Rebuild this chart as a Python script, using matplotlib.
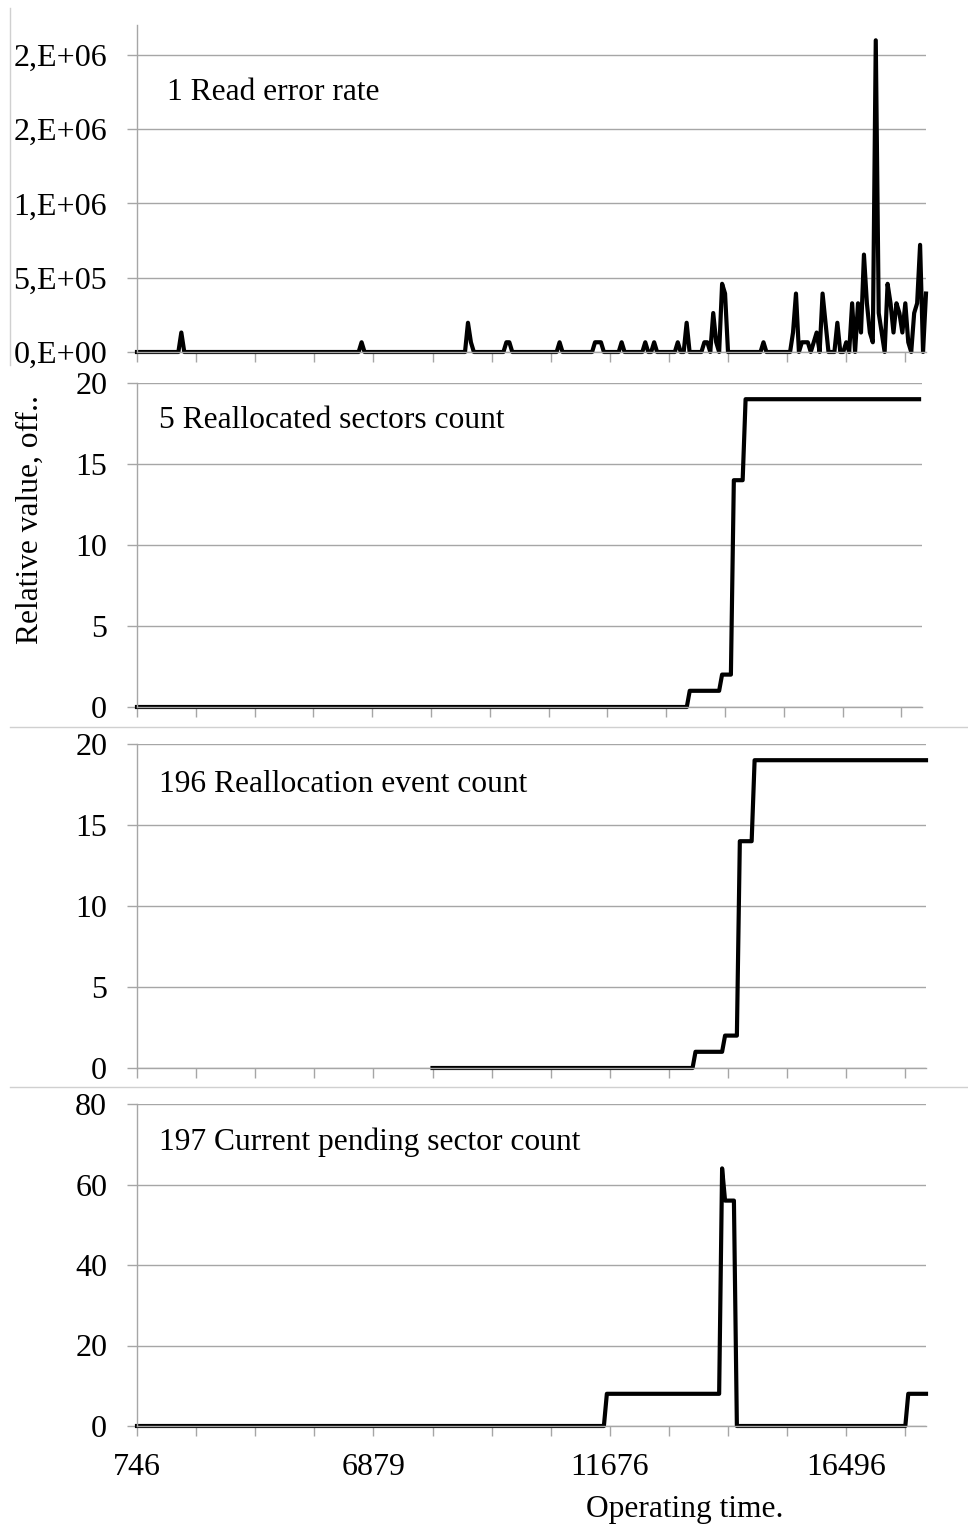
import matplotlib.pyplot as plt
import numpy as np
from matplotlib.lines import Line2D

plt.rcParams['font.family'] = ['Liberation Serif', 'DejaVu Serif']

# x axis is the sample number (category axis), labelled with operating time
n_samples = 268
tick_idx = [0, 80, 160, 240]
tick_labels = ["746", "6879", "11676", "16496"]

# 1 Read error rate: samples that differ from zero
read_idx = [15, 76, 112, 113, 125, 126, 143, 155, 156, 157, 164, 172, 175, 183,
            186, 192, 193, 195, 196, 198, 199, 212, 222, 223, 225, 226, 227,
            229, 230, 232, 233, 237, 240, 242, 244, 245, 246, 247, 248, 249,
            250, 251, 252, 254, 255, 256, 257, 258, 259, 260, 261, 263, 264,
            265, 267]
read_val = [131072, 65536, 196608, 65536, 65536, 65536, 65536, 65536, 65536,
            65536, 65536, 65536, 65536, 65536, 196608, 65536, 65536, 262144,
            65536, 458752, 393216, 65536, 131072, 393216, 65536, 65536, 65536,
            65536, 131072, 393216, 196608, 196608, 65536, 327680, 327680,
            131072, 655360, 327680, 131072, 65536, 2097152, 262144, 131072,
            458752, 327680, 131072, 327680, 262144, 131072, 327680, 65536,
            262144, 327680, 720896, 393216]

# 5 Reallocated sectors count
realloc_x = [0, 187, 188, 198, 199, 202, 203, 206, 207, 266]
realloc_y = [0, 0, 1, 1, 2, 2, 14, 14, 19, 19]

# 196 Reallocation event count
event_x = [100, 188, 189, 198, 199, 203, 204, 208, 209, 267]
event_y = [0, 0, 1, 1, 2, 2, 14, 14, 19, 19]

# 197 Current pending sector count
pending_x = [0, 158, 159, 197, 198, 199, 202, 203, 260, 261, 267]
pending_y = [0, 0, 8, 8, 64, 56, 56, 0, 0, 8, 8]

read_series = np.zeros(n_samples)
read_series[read_idx] = read_val

W, H = 968, 1531
fig = plt.figure(figsize=(W / 100, H / 100), dpi=100)

grey = '#a6a6a6'
fs = 23
fs_txt = 22.7


def panel(left, right, top, bottom):
    ax = fig.add_axes([left / W, 1 - bottom / H, (right - left) / W, (bottom - top) / H])
    for s in ['top', 'right']:
        ax.spines[s].set_visible(False)
    for s in ['left', 'bottom']:
        ax.spines[s].set_color(grey)
        ax.spines[s].set_linewidth(1.0)
    ax.yaxis.grid(True, color=grey, linewidth=1.0)
    ax.set_axisbelow(True)
    ax.set_xlim(0, 267)
    ax.set_xticks(np.arange(0, 261, 20))
    ax.tick_params(axis='both', direction='out', length=7.5, width=1.0,
                   color=grey, labelsize=fs, pad=14)
    ax.set_xticklabels([])
    return ax


line_kw = dict(color='black', linewidth=3.0, solid_joinstyle='round', clip_on=False)

# panel 1
ax1 = panel(137, 926, 25, 352)
ax1.plot(np.arange(n_samples), read_series, **line_kw)
ax1.set_ylim(0, 2.2e6)
ax1.set_yticks([0, 5e5, 1e6, 1.5e6, 2e6])
ax1.set_yticklabels(["0,E+00", "5,E+05", "1,E+06", "2,E+06", "2,E+06"])
ax1.text(30 / 789, 0.795, "1 Read error rate", transform=ax1.transAxes,
         fontsize=fs_txt, va='center', ha='left')

# panel 2
ax2 = panel(137, 922, 383, 707)
ax2.plot(realloc_x, realloc_y, **line_kw)
ax2.set_ylim(0, 20)
ax2.set_yticks([0, 5, 10, 15, 20])
ax2.text(22 / 785, 0.885, "5 Reallocated sectors count", transform=ax2.transAxes,
         fontsize=fs_txt, va='center', ha='left')

# panel 3
ax3 = panel(137, 926, 744, 1068)
ax3.plot(event_x, event_y, **line_kw)
ax3.set_ylim(0, 20)
ax3.set_yticks([0, 5, 10, 15, 20])
ax3.text(22 / 789, 0.875, "196 Reallocation event count", transform=ax3.transAxes,
         fontsize=fs_txt, va='center', ha='left')

# panel 4
ax4 = panel(137, 926, 1104, 1426)
ax4.plot(pending_x, pending_y, **line_kw)
ax4.set_ylim(0, 80)
ax4.set_yticks([0, 20, 40, 60, 80])
major = ax4.get_xticks()
ax4.set_xticklabels([tick_labels[tick_idx.index(int(t))] if int(t) in tick_idx else ""
                     for t in major])
ax4.tick_params(axis='x', pad=12)
ax4.text(22 / 789, 0.88, "197 Current pending sector count", transform=ax4.transAxes,
         fontsize=fs_txt, va='center', ha='left')

fig.text(685 / W, 1 - 1510 / H, "Operating time.", fontsize=fs_txt, ha='center', va='center')
fig.text(30 / W, 1 - 520 / H, "Relative value, off..", fontsize=fs_txt, rotation=90,
         ha='center', va='center')

# separators between the original charts
sep = '#d0d0d0'
fig.add_artist(Line2D([10 / W, 1], [1 - 727 / H] * 2, color=sep, linewidth=1.0))
fig.add_artist(Line2D([10 / W, 1], [1 - 1087 / H] * 2, color=sep, linewidth=1.0))
fig.add_artist(Line2D([10 / W] * 2, [1 - 8 / H, 1 - 365 / H], color=sep, linewidth=1.0))

fig.savefig("out.png", dpi=100)
